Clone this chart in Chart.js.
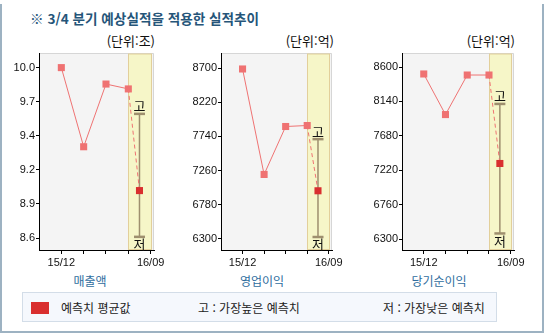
<!DOCTYPE html>
<html lang="ko">
<head>
<meta charset="utf-8">
<script src="https://cdn.jsdelivr.net/npm/chart.js@4/dist/chart.umd.min.js"></script>
<style>
  html, body { margin: 0; padding: 0; background: #fff; }
  body { width: 544px; height: 333px; position: relative; overflow: hidden;
         font-family: "Noto Sans CJK KR", "Noto Sans", sans-serif; }
  .frame { position: absolute; left: 0; top: 4px; width: 540px; height: 327px;
           border-left: 2px solid #9db2c2; border-right: 2px solid #9db2c2; border-bottom: 2px solid #9db2c2; }
  .title { position: absolute; left: 30px; top: 8px; font-size: 13.6px; font-weight: bold;
           color: #255579; white-space: nowrap; }
  .unit { position: absolute; top: 31px; font-size: 13px; color: #111; white-space: nowrap; text-align: right; }
  .cat { position: absolute; top: 272px; font-size: 12px; color: #2f6d9e; white-space: nowrap; text-align: center; }
  canvas.c { position: absolute; }
  .legend { position: absolute; left: 22px; top: 292px; width: 473px; height: 28px;
            background: #f5f8fd; border: 1px solid #d3dde8; }
  .legend span { position: absolute; top: 6px; font-size: 12px; color: #222; white-space: nowrap; }
  .swatch { position: absolute; left: 8px; top: 9px; width: 18px; height: 12px; background: #d92f2f; }
</style>
</head>
<body>
<div class="frame"></div>
<div class="title">※ 3/4 분기 예상실적을 적용한 실적추이</div>

<div class="unit" style="left:55px;width:100px;">(단위:조)</div>
<div class="unit" style="left:234px;width:100px;">(단위:억)</div>
<div class="unit" style="left:415px;width:100px;">(단위:억)</div>

<canvas class="c" id="c1" style="left:0px;top:45px;" width="170" height="225"></canvas>
<canvas class="c" id="c2" style="left:182px;top:45px;" width="166" height="225"></canvas>
<canvas class="c" id="c3" style="left:363px;top:45px;" width="167" height="225"></canvas>

<div class="cat" style="left:50px;width:80px;">매출액</div>
<div class="cat" style="left:222px;width:80px;">영업이익</div>
<div class="cat" style="left:399px;width:80px;">당기순이익</div>

<div class="legend">
  <div class="swatch"></div>
  <span style="left:38px;">예측치 평균값</span>
  <span style="left:175px;">고 : 가장높은 예측치</span>
  <span style="left:360px;">저 : 가장낮은 예측치</span>
</div>

<script>
// Quarter positions and axis labels
const xPositions = [0, 1, 2, 3];
const xTickValues = [0, 1, 2, 3, 4];
const xTickLabels = ['15/12', '', '', '', '16/09'];
const forecastX = 3.5;

// 매출액 (조)
const salesValues = [10.0, 9.35, 9.865, 9.825];
const salesForecast = 8.99;
const salesHigh = 9.62;
const salesLow = 8.61;
const salesTicks = [8.6, 8.88, 9.16, 9.44, 9.72, 10.0];
const salesTickLabels = ['8.6', '8.9', '9.2', '9.4', '9.7', '10.0'];

// 영업이익 (억)
const opValues = [8690, 7205, 7880, 7894];
const opForecast = 6975;
const opHigh = 7702;
const opLow = 6324;
const opTicks = [6300, 6780, 7260, 7740, 8220, 8700];
const opTickLabels = ['6300', '6780', '7260', '7740', '8220', '8700'];

// 당기순이익 (억)
const netValues = [8507, 7965, 8493, 8493];
const netForecast = 7312;
const netHigh = 8107;
const netLow = 6378;
const netTicks = [6300, 6760, 7220, 7680, 8140, 8600];
const netTickLabels = ['6300', '6760', '7220', '7680', '8140', '8600'];

const LINE = '#ef7373';
const MARK = '#ef7272';
const AVG = '#d92f2f';
const RANGE = '#9e8f6e';
const TICK_FONT = { family: '"Liberation Sans", Arial, sans-serif', size: 11 };

// Plot background, frame and forecast band
const panelPlugin = {
  id: 'panel',
  beforeDraw(chart) {
    const { ctx, chartArea: a, scales: { x } } = chart;
    ctx.save();
    ctx.fillStyle = '#f4f4f4';
    ctx.fillRect(a.left, a.top, a.right - a.left, a.bottom - a.top);
    ctx.strokeStyle = '#d6d6d6';
    ctx.lineWidth = 1;
    ctx.beginPath();
    ctx.moveTo(a.left, a.top + 0.5);
    ctx.lineTo(a.right - 0.5, a.top + 0.5);
    ctx.lineTo(a.right - 0.5, a.bottom);
    ctx.stroke();
    const bx0 = Math.round(x.getPixelForValue(3)) + 0.5;
    const bx1 = Math.round(x.getPixelForValue(4)) + 0.5;
    ctx.fillStyle = '#f6f6c8';
    ctx.fillRect(bx0, a.top + 1, bx1 - bx0, a.bottom - a.top - 1);
    ctx.strokeStyle = '#e2cf9a';
    ctx.strokeRect(bx0, a.top + 1, bx1 - bx0, a.bottom - a.top - 1.5);
    ctx.restore();
  },
  afterDatasetsDraw(chart) {
    const { ctx, scales: { x, y } } = chart;
    const r = chart.options.plugins.panel;
    const px = x.getPixelForValue(forecastX);
    ctx.save();
    ctx.fillStyle = '#111';
    ctx.font = '13px "Noto Sans CJK KR", sans-serif';
    ctx.textAlign = 'center';
    ctx.textBaseline = 'bottom';
    ctx.fillText('고', px, y.getPixelForValue(r.high) - 1);
    ctx.textBaseline = 'top';
    ctx.fillText('저', px, y.getPixelForValue(r.low) + 1);
    ctx.restore();
  }
};

function makeChart(id, values, forecast, high, low, ticks, tickLabels, yMin, yMax) {
  const actual = xPositions.map((x, i) => ({ x, y: values[i] }));
  const last = actual[actual.length - 1];
  return new Chart(document.getElementById(id), {
    type: 'line',
    data: {
      datasets: [
        { // forecast average
          data: [{ x: forecastX, y: forecast }],
          showLine: false, pointStyle: 'rect', pointRadius: 5,
          pointBackgroundColor: AVG, pointBorderColor: AVG, pointBorderWidth: 0, order: 0
        },
        { // reported results
          data: actual, borderColor: LINE, borderWidth: 1,
          pointStyle: 'rect', pointRadius: 5,
          pointBackgroundColor: MARK, pointBorderColor: MARK, pointBorderWidth: 0, order: 1
        },
        { // link to forecast
          data: [last, { x: forecastX, y: forecast }],
          borderColor: LINE, borderWidth: 1, borderDash: [4, 3], pointRadius: 0, order: 2
        },
        { // forecast range
          data: [{ x: forecastX, y: low }, { x: forecastX, y: high }],
          borderColor: RANGE, borderWidth: 1.5,
          pointStyle: 'line', pointRadius: 5.5, pointBorderWidth: 2.5,
          pointBorderColor: RANGE, pointBackgroundColor: RANGE, order: 3
        }
      ]
    },
    options: {
      responsive: false,
      animation: false,
      events: [],
      layout: { padding: { left: 0, right: 16, top: 0, bottom: 0 } },
      plugins: {
        legend: { display: false },
        tooltip: { enabled: false },
        panel: { high, low }
      },
      scales: {
        x: {
          type: 'linear', min: -1, max: 4.15,
          afterBuildTicks: s => { s.ticks = xTickValues.map(v => ({ value: v })); },
          afterFit: s => { s.height = 20; },
          ticks: {
            autoSkip: false, maxRotation: 0, padding: 2, color: '#111', font: TICK_FONT,
            callback: (v, i) => xTickLabels[i]
          },
          grid: { drawOnChartArea: false, drawTicks: true, tickLength: 4, color: '#000' },
          border: { display: true, color: '#000', width: 1 }
        },
        y: {
          type: 'linear', min: yMin, max: yMax,
          afterBuildTicks: s => { s.ticks = ticks.map(v => ({ value: v })); },
          afterFit: s => { s.width = 39; },
          ticks: {
            autoSkip: false, padding: 1, color: '#111', font: TICK_FONT,
            callback: (v, i) => tickLabels[i]
          },
          grid: { drawOnChartArea: false, drawTicks: true, tickLength: 3, color: '#000' },
          border: { display: true, color: '#000', width: 1 }
        }
      }
    },
    plugins: [panelPlugin]
  });
}

makeChart('c1', salesValues, salesForecast, salesHigh, salesLow, salesTicks, salesTickLabels, 8.502, 10.12);
makeChart('c2', opValues, opForecast, opHigh, opLow, opTicks, opTickLabels, 6141, 8915);
makeChart('c3', netValues, netForecast, netHigh, netLow, netTicks, netTickLabels, 6157, 8787);
</script>
</body>
</html>
